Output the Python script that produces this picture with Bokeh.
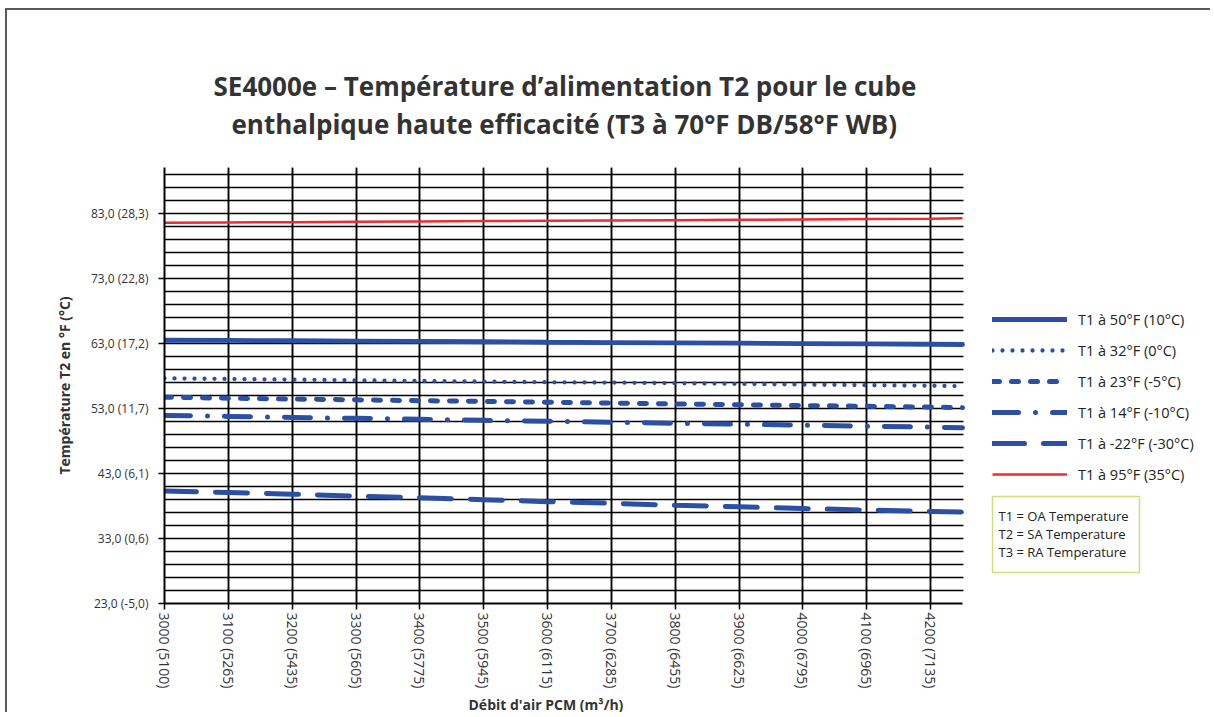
from bokeh.plotting import figure
from bokeh.models import FixedTicker, Grid, Legend, LegendItem, Label, Title, BoxAnnotation
from bokeh.embed import file_html
from bokeh.resources import INLINE

# ---- data ----
flow_cfm = [3000, 3100, 3200, 3300, 3400, 3500, 3600, 3700, 3800, 3900, 4000, 4100, 4200, 4250]
t1_50F = [63.45, 63.42, 63.38, 63.33, 63.28, 63.22, 63.15, 63.10, 63.05, 63.00, 62.95, 62.90, 62.84, 62.80]
t1_32F = [57.60, 57.50, 57.40, 57.30, 57.20, 57.10, 57.00, 56.95, 56.85, 56.75, 56.65, 56.55, 56.47, 56.40]
t1_23F = [54.70, 54.55, 54.42, 54.30, 54.17, 54.05, 53.92, 53.80, 53.67, 53.55, 53.42, 53.30, 53.18, 53.10]
t1_14F = [51.90, 51.75, 51.60, 51.45, 51.30, 51.15, 51.00, 50.85, 50.70, 50.55, 50.40, 50.25, 50.10, 50.00]
t1_m22F = [40.30, 40.05, 39.80, 39.50, 39.25, 38.95, 38.65, 38.40, 38.10, 37.85, 37.60, 37.35, 37.15, 37.05]
t1_95F = [81.50, 81.55, 81.60, 81.66, 81.71, 81.76, 81.80, 81.86, 81.91, 81.96, 82.02, 82.07, 82.13, 82.20]

x_ticks = [3000, 3100, 3200, 3300, 3400, 3500, 3600, 3700, 3800, 3900, 4000, 4100, 4200]
x_tick_labels = ["3000 (5100)", "3100 (5265)", "3200 (5435)", "3300 (5605)", "3400 (5775)",
                 "3500 (5945)", "3600 (6115)", "3700 (6285)", "3800 (6455)", "3900 (6625)",
                 "4000 (6795)", "4100 (6965)", "4200 (7135)"]
x_half_ticks = [3050, 3150, 3250, 3350, 3450, 3550, 3650, 3750, 3850, 3950, 4050, 4150, 4250]
x_start, x_end_data = 3000, 4250
y_ticks = [23, 33, 43, 53, 63, 73, 83]
y_tick_labels = ["23,0 (-5,0)", "33,0 (0,6)", "43,0 (6,1)", "53,0 (11,7)",
                 "63,0 (17,2)", "73,0 (22,8)", "83,0 (28,3)"]
y_grid = list(range(25, 90, 2))

legend_labels = ["T1 à 50°F (10°C)", "T1 à 32°F (0°C)", "T1 à 23°F (-5°C)",
                 "T1 à 14°F (-10°C)", "T1 à -22°F (-30°C)", "T1 à 95°F (35°C)"]
title_line1 = "SE4000e – Température d’alimentation T2 pour le cube"
title_line2 = "enthalpique haute efficacité (T3 à 70°F DB/58°F WB)"
x_title = "Débit d'air PCM (m³/h)"
y_title = "Température T2 en °F (°C)"
note_text = "T1 = OA Temperature\nT2 = SA Temperature\nT3 = RA Temperature"

BLUE = "#2b4fa2"
RED = "#ee2b32"
FONT = "Open Sans"

# ---- layout (pixels) ----
W, H = 1205, 704
ML, MT, MB = 157, 157, 110
PLOT_W = 798          # width of the data area in pixels
frame_w = W - ML
x_end = x_start + (x_end_data - x_start) * frame_w / PLOT_W   # extra room on the right for legend

p = figure(width=W, height=H, x_range=(x_start, x_end), y_range=(23, 90),
           output_backend="svg", toolbar_location=None, title=None,
           min_border_left=ML, min_border_right=0, min_border_top=MT, min_border_bottom=MB)
p.styles = {"margin-left": "5px", "margin-top": "8px",
            "border-left": "2px solid #5a5a5a", "border-top": "2px solid #5a5a5a"}
p.outline_line_color = None
p.background_fill_color = "white"

# titles (stacked above)
p.add_layout(Title(text=" ", text_font_size="12px"), "above")
p.add_layout(Title(text=title_line2, align="left", offset=67, text_font=FONT, text_font_size="26px",
                   text_font_style="bold", text_color="#333333", standoff=0), "above")
p.add_layout(Title(text=title_line1, align="left", offset=49, text_font=FONT, text_font_size="26px",
                   text_font_style="bold", text_color="#333333", standoff=0), "above")

# grids
gray_grid = Grid(dimension=0, ticker=FixedTicker(ticks=x_half_ticks),
                 grid_line_color="#c8c8c8", grid_line_width=1.5)
p.add_layout(gray_grid)
p.xgrid.ticker = FixedTicker(ticks=x_ticks)
p.xgrid.grid_line_color = "black"
p.xgrid.grid_line_width = 1.5
p.ygrid.ticker = FixedTicker(ticks=y_grid)
p.ygrid.grid_line_color = "black"
p.ygrid.grid_line_width = 1.5
# blank the area right of the data region (legend zone)
p.add_layout(BoxAnnotation(left=x_end_data + 1.5, fill_color="white", fill_alpha=1,
                           line_color=None, level="underlay"))

# axes
p.xaxis.ticker = FixedTicker(ticks=x_ticks)
p.xaxis.bounds = (x_start, x_end_data)
p.xaxis.major_label_overrides = {t: l for t, l in zip(x_ticks, x_tick_labels)}
p.xaxis.major_label_orientation = "vertical"
p.yaxis.ticker = FixedTicker(ticks=y_ticks)
p.yaxis.major_label_overrides = {t: l for t, l in zip(y_ticks, y_tick_labels)}
for ax in (p.xaxis[0], p.yaxis[0]):
    ax.axis_line_color = "black"
    ax.axis_line_width = 2
    ax.major_tick_line_color = "black"
    ax.major_tick_line_width = 1.5
    ax.major_tick_out = 6
    ax.major_tick_in = 0
    ax.minor_tick_line_color = None
    ax.major_label_text_font = FONT
    ax.major_label_text_color = "#333333"
    ax.axis_label_text_font = FONT
    ax.axis_label_text_font_style = "bold"
    ax.axis_label_text_color = "#333333"
p.xaxis.major_label_text_font_size = "14px"
p.yaxis.major_label_text_font_size = "12px"
p.yaxis.axis_label = y_title
p.yaxis.axis_label_text_font_size = "14px"
p.yaxis.axis_label_standoff = 14
p.yaxis.major_label_standoff = 10
p.xaxis.major_label_standoff = 3

# x-axis title centred under the data region
p.add_layout(Title(text=x_title, align="left", offset=304, text_font=FONT, text_font_size="14px",
                   text_font_style="bold", text_color="#333333", standoff=2), "below")

# series
r1 = p.line(flow_cfm, t1_50F, line_color=BLUE, line_width=4.8, line_cap="round")
r2 = p.line(flow_cfm, t1_32F, line_color=BLUE, line_width=4.3, line_cap="round", line_dash="0 10")
r3 = p.line(flow_cfm, t1_23F, line_color=BLUE, line_width=5, line_cap="round", line_dash="7 12")
r4 = p.line(flow_cfm, t1_14F, line_color=BLUE, line_width=5, line_cap="round", line_dash="26 17 0 17")
r5 = p.line(flow_cfm, t1_m22F, line_color=BLUE, line_width=5, line_cap="round", line_dash="32 19")
r6 = p.line(flow_cfm, t1_95F, line_color=RED, line_width=2.5)

legend = Legend(items=[LegendItem(label=lab, renderers=[r]) for lab, r in
                       zip(legend_labels, [r1, r2, r3, r4, r5, r6])],
                location=(828, 119), orientation="vertical",
                glyph_width=75, glyph_height=20, label_height=20, spacing=11,
                padding=0, margin=0, label_standoff=11,
                border_line_color=None, background_fill_alpha=0,
                label_text_font=FONT, label_text_font_size="14.5px", label_text_color="#222222")
p.add_layout(legend)

note = Label(x=828, y=31, x_units="screen", y_units="screen", text=note_text,
             text_font=FONT, text_font_size="13px", text_color="#222222", text_line_height=1.0,
             text_align="left", text_baseline="bottom",
             border_line_color="#cfe07a", border_line_width=1.5,
             background_fill_color="white", padding=(6, 11, 10, 12))
p.add_layout(note)

open("out.html", "w").write(file_html(p, INLINE))
